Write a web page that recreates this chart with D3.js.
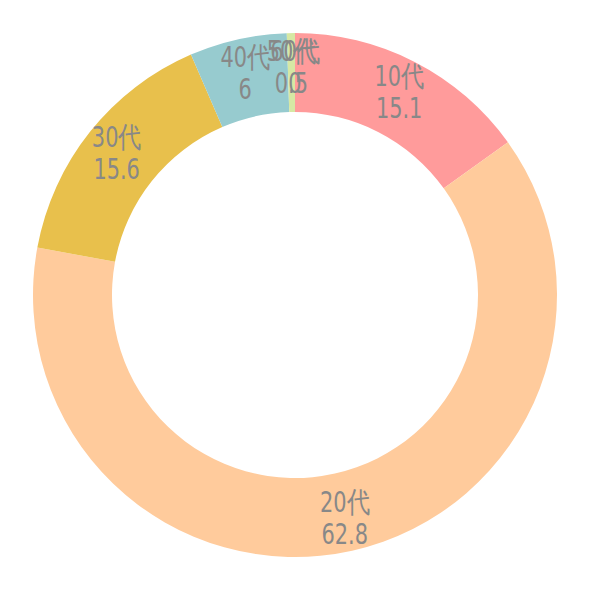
<!DOCTYPE html>
<html><head><meta charset="utf-8">
<script src="https://cdn.jsdelivr.net/npm/d3@7"></script>
<style>body{margin:0;background:#fff}</style>
</head><body>
<svg id="chart" width="590" height="590"></svg>
<script>
var categories = ["10代", "20代", "30代", "40代", "50代", "60代"];
var values = [15.1, 62.8, 15.6, 6, 0.5, 0];
var colors = ["#ff9b9b", "#ffcb9c", "#e8c04c", "#97cbcf", "#d6e8a4", "#c7b3e0"];

var svg = d3.select("#chart");
var g = svg.append("g").attr("transform", "translate(295,295)");

var data = categories.map(function(c, i) { return { name: c, value: values[i] }; });
var pie = d3.pie().sort(null).value(function(d) { return d.value; });
var arc = d3.arc().innerRadius(183).outerRadius(262);
var labelArc = d3.arc().innerRadius(228).outerRadius(228);

var arcs = pie(data);
g.selectAll("path").data(arcs).enter().append("path")
    .attr("d", arc)
    .attr("fill", function(d, i) { return colors[i]; });

var t = g.selectAll("text").data(arcs).enter().append("text")
    .attr("text-anchor", "middle")
    .style("font", "29px 'DejaVu Sans Condensed', sans-serif")
    .style("fill", "#888")
    .attr("transform", function(d) {
        var c = labelArc.centroid(d);
        return "translate(" + c[0] + "," + c[1] + ") scale(0.8,1)";
    });
t.append("tspan").attr("x", 0).attr("dy", "-0.2em").text(function(d) { return d.data.name; });
t.append("tspan").attr("x", 0).attr("dy", "1.1em").text(function(d) { return d.data.value; });
</script>
</body></html>
